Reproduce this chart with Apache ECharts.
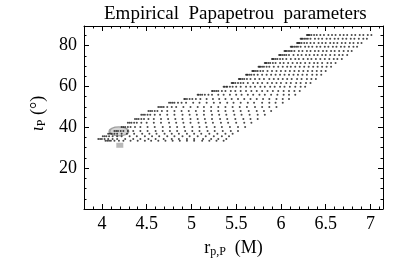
<!DOCTYPE html>
<html><head><meta charset="utf-8">
<script src="https://cdn.jsdelivr.net/npm/echarts@6/dist/echarts.min.js"></script>
<style>html,body{margin:0;padding:0;background:#fff}#c{width:415px;height:258px}</style>
</head><body><div id="c"></div>
<script>
// Title & axis texts
const titleText = 'Empirical  Papapetrou  parameters';
const xTickValues = [4, 4.5, 5, 5.5, 6, 6.5, 7];
const yTickValues = [20, 40, 60, 80];

// Grid rows of the empirical parameters: inclination (deg) of each row
const rowY = [85.2, 83.3, 81.3, 79.4, 77.4, 75.4, 73.5, 71.5, 69.6, 67.6, 65.7, 63.7, 61.7, 59.8,
  57.8, 55.9, 53.9, 52.0, 50.0, 48.0, 46.1, 44.1, 42.2, 40.2, 38.2, 36.8, 35.6, 34.3, 33.4];
// r_p,P (M) values of the points along each row
const rowX = [
  [6.29, 6.30, 6.31, 6.32, 6.34, 6.37, 6.40, 6.44, 6.48, 6.53, 6.57, 6.61, 6.66, 6.70, 6.74, 6.79, 6.83, 6.88, 6.92, 6.97, 7.01],
  [6.22, 6.23, 6.24, 6.26, 6.28, 6.30, 6.33, 6.38, 6.42, 6.46, 6.51, 6.55, 6.60, 6.64, 6.69, 6.73, 6.78, 6.82, 6.87, 6.92, 6.96],
  [6.18, 6.19, 6.20, 6.21, 6.23, 6.26, 6.29, 6.33, 6.37, 6.42, 6.46, 6.50, 6.55, 6.59, 6.63, 6.68, 6.72, 6.77, 6.81, 6.86, 6.90],
  [6.11, 6.12, 6.13, 6.15, 6.17, 6.19, 6.22, 6.27, 6.31, 6.35, 6.40, 6.44, 6.49, 6.53, 6.58, 6.62, 6.67, 6.71, 6.76, 6.81, 6.85],
  [6.04, 6.05, 6.06, 6.08, 6.10, 6.12, 6.15, 6.20, 6.24, 6.29, 6.33, 6.38, 6.42, 6.47, 6.51, 6.56, 6.60, 6.65, 6.70, 6.75, 6.79],
  [5.98, 5.99, 6.00, 6.02, 6.04, 6.06, 6.09, 6.14, 6.19, 6.23, 6.28, 6.32, 6.37, 6.41, 6.46, 6.50, 6.55, 6.60, 6.65, 6.69, 6.74],
  [5.90, 5.91, 5.92, 5.94, 5.96, 5.99, 6.02, 6.06, 6.11, 6.16, 6.20, 6.25, 6.30, 6.34, 6.39, 6.44, 6.49, 6.54, 6.59, 6.63, 6.68],
  [5.82, 5.83, 5.84, 5.86, 5.88, 5.91, 5.94, 5.99, 6.03, 6.08, 6.13, 6.18, 6.22, 6.27, 6.32, 6.37, 6.41, 6.46, 6.52, 6.56, 6.61],
  [5.75, 5.76, 5.77, 5.79, 5.81, 5.84, 5.87, 5.92, 5.97, 6.02, 6.07, 6.11, 6.16, 6.21, 6.26, 6.31, 6.36, 6.41, 6.46, 6.51, 6.56],
  [5.68, 5.69, 5.70, 5.72, 5.74, 5.77, 5.80, 5.85, 5.90, 5.95, 6.00, 6.05, 6.10, 6.15, 6.20, 6.25, 6.30, 6.35, 6.40, 6.45, 6.50],
  [5.61, 5.62, 5.63, 5.65, 5.67, 5.70, 5.74, 5.79, 5.84, 5.89, 5.94, 5.99, 6.04, 6.09, 6.14, 6.19, 6.24, 6.29, 6.35, 6.40, 6.45],
  [5.53, 5.54, 5.55, 5.57, 5.59, 5.62, 5.66, 5.71, 5.76, 5.81, 5.87, 5.92, 5.97, 6.02, 6.07, 6.12, 6.18, 6.23, 6.29, 6.34, 6.39],
  [5.45, 5.46, 5.47, 5.49, 5.52, 5.55, 5.58, 5.63, 5.69, 5.74, 5.79, 5.85, 5.90, 5.95, 6.00, 6.06, 6.11, 6.17, 6.22, 6.28, 6.33],
  [5.36, 5.37, 5.39, 5.40, 5.43, 5.46, 5.50, 5.55, 5.61, 5.66, 5.71, 5.77, 5.82, 5.88, 5.93, 5.99, 6.04, 6.10, 6.16, 6.22, 6.27],
  [5.23, 5.24, 5.26, 5.28, 5.30, 5.34, 5.38, 5.44, 5.49, 5.55, 5.61, 5.67, 5.73, 5.79, 5.85, 5.91, 5.97, 6.03, 6.09, 6.15, 6.21],
  [5.07, 5.08, 5.10, 5.12, 5.15, 5.19, 5.23, 5.30, 5.36, 5.43, 5.50, 5.56, 5.63, 5.69, 5.76, 5.82, 5.89, 5.96, 6.03, 6.09, 6.16],
  [4.92, 4.93, 4.95, 4.98, 5.01, 5.05, 5.10, 5.17, 5.24, 5.31, 5.38, 5.45, 5.52, 5.59, 5.66, 5.73, 5.80, 5.87, 5.95, 6.02, 6.09],
  [4.75, 4.77, 4.79, 4.81, 4.85, 4.89, 4.94, 5.02, 5.09, 5.17, 5.25, 5.32, 5.40, 5.47, 5.55, 5.63, 5.70, 5.79, 5.87, 5.94, 6.02],
  [4.63, 4.65, 4.67, 4.69, 4.73, 4.78, 4.83, 4.91, 4.99, 5.07, 5.14, 5.22, 5.30, 5.38, 5.46, 5.54, 5.62, 5.71, 5.79, 5.87, 5.95],
  [4.52, 4.54, 4.56, 4.59, 4.62, 4.67, 4.73, 4.81, 4.89, 4.97, 5.05, 5.14, 5.22, 5.30, 5.38, 5.47, 5.55, 5.64, 5.73, 5.81, 5.89],
  [4.44, 4.46, 4.48, 4.51, 4.54, 4.59, 4.65, 4.73, 4.81, 4.90, 4.98, 5.06, 5.14, 5.23, 5.31, 5.39, 5.48, 5.56, 5.65, 5.74, 5.82],
  [4.37, 4.39, 4.41, 4.44, 4.47, 4.52, 4.58, 4.66, 4.74, 4.82, 4.90, 4.99, 5.07, 5.15, 5.23, 5.32, 5.40, 5.49, 5.58, 5.66, 5.74],
  [4.29, 4.31, 4.33, 4.36, 4.39, 4.44, 4.50, 4.58, 4.66, 4.75, 4.83, 4.91, 4.99, 5.08, 5.16, 5.24, 5.33, 5.41, 5.50, 5.59, 5.67],
  [4.22, 4.24, 4.26, 4.29, 4.32, 4.37, 4.43, 4.51, 4.59, 4.68, 4.76, 4.84, 4.92, 5.01, 5.09, 5.17, 5.26, 5.34, 5.43, 5.52, 5.60],
  [4.14, 4.16, 4.18, 4.21, 4.24, 4.29, 4.35, 4.43, 4.51, 4.60, 4.68, 4.76, 4.84, 4.93, 5.01, 5.09, 5.18, 5.26, 5.35, 5.44, 5.52],
  [4.07, 4.09, 4.11, 4.14, 4.17, 4.22, 4.28, 4.36, 4.45, 4.53, 4.61, 4.70, 4.78, 4.86, 4.95, 5.03, 5.11, 5.20, 5.29, 5.38, 5.46],
  [4.01, 4.03, 4.05, 4.08, 4.12, 4.17, 4.22, 4.31, 4.39, 4.48, 4.56, 4.64, 4.73, 4.81, 4.90, 4.98, 5.07, 5.16, 5.25, 5.34, 5.42],
  [3.96, 3.98, 4.00, 4.03, 4.07, 4.12, 4.17, 4.26, 4.35, 4.43, 4.52, 4.60, 4.69, 4.78, 4.86, 4.95, 5.03, 5.13, 5.22, 5.30, 5.39],
  [4.04, 4.06, 4.08, 4.10, 4.14, 4.19, 4.24, 4.32, 4.40, 4.48, 4.55, 4.63, 4.71, 4.79, 4.87, 4.95, 5.03, 5.12, 5.20, 5.28, 5.36]
];
// Observed value: error ellipse centre and the square marker
const ellipsePoint = [4.19, 38.0];
const squarePoint = [4.20, 31.2];

const pts = [];
rowY.forEach((y, i) => rowX[i].forEach(x => pts.push([x, y])));

const FONT = 'Liberation Serif';
const XMIN = 3.8, XMAX = 7.14, YMIN = 0, YMAX = 89.6;
const lineStyle = { color: '#000', width: 1 };

function xAx(pos, major, withLabel) {
  const a = {
    type: 'value', position: pos, min: XMIN, max: XMAX,
    splitLine: { show: false },
    axisLine: { show: major, onZero: false, lineStyle },
  };
  if (major) {
    a.axisTick = { show: true, inside: true, length: 5, customValues: xTickValues, lineStyle };
    a.axisLabel = withLabel ? { show: true, customValues: xTickValues, fontFamily: FONT, fontSize: 18, color: '#000', margin: 6 } : { show: false };
  } else {
    a.interval = 0.1;
    a.axisTick = { show: true, inside: true, length: 2.5, lineStyle };
    a.axisLabel = { show: false };
  }
  if (withLabel) {
    a.name = '{r|r}{s|p,P}{r|  (M)}';
    a.nameLocation = 'middle';
    a.nameGap = 30;
    a.nameTextStyle = { rich: {
      r: { fontFamily: FONT, fontSize: 18, color: '#000' },
      s: { fontFamily: FONT, fontSize: 12, color: '#000', verticalAlign: 'bottom', padding: [7, 0, 0, 0] }
    } };
  }
  return a;
}
function yAx(pos, major, withLabel) {
  const a = {
    type: 'value', position: pos, min: YMIN, max: YMAX,
    splitLine: { show: false },
    axisLine: { show: major, onZero: false, lineStyle },
  };
  if (major) {
    a.axisTick = { show: true, inside: true, length: 5, customValues: yTickValues, lineStyle };
    a.axisLabel = withLabel ? { show: true, customValues: yTickValues, fontFamily: FONT, fontSize: 18, color: '#000', margin: 7 } : { show: false };
  } else {
    a.interval = 5;
    a.axisTick = { show: true, inside: true, length: 2.5, lineStyle };
    a.axisLabel = { show: false };
  }
  if (withLabel) {
    a.name = '{i|ι}{s|P}{r| (°)}';
    a.nameLocation = 'middle';
    a.nameRotate = 90;
    a.nameGap = 36;
    a.nameTextStyle = { padding: [0, 0, 0, 8], rich: {
      i: { fontFamily: FONT, fontStyle: 'italic', fontSize: 18, color: '#000' },
      r: { fontFamily: FONT, fontSize: 18, color: '#000' },
      s: { fontFamily: FONT, fontSize: 12, color: '#000', verticalAlign: 'bottom', padding: [7, 0, 0, 0] }
    } };
  }
  return a;
}

const chart = echarts.init(document.getElementById('c'), null, { renderer: 'canvas' });
chart.setOption({
  animation: false,
  backgroundColor: '#fff',
  title: {
    text: titleText, left: 99, top: 0,
    textStyle: { fontFamily: FONT, fontSize: 19, fontWeight: 'normal', color: '#000' }
  },
  grid: { left: 84, right: 32, top: 26, bottom: 49, containLabel: false, outerBoundsMode: 'none' },
  xAxis: [xAx('bottom', true, true), xAx('bottom', false, false), xAx('top', true, false), xAx('top', false, false)],
  yAxis: [yAx('left', true, true), yAx('left', false, false), yAx('right', true, false), yAx('right', false, false)],
  series: [
    { type: 'scatter', xAxisIndex: 0, yAxisIndex: 0, data: [ellipsePoint], symbol: 'circle', symbolSize: [19, 9],
      itemStyle: { color: 'rgba(160,160,160,0.55)', borderColor: '#8c8c8c', borderWidth: 1.5 }, silent: true, z: 1 },
    { type: 'scatter', xAxisIndex: 0, yAxisIndex: 0, data: [squarePoint], symbol: 'rect', symbolSize: [7, 5],
      itemStyle: { color: '#a8a8a8' }, silent: true, z: 1 },
    { type: 'scatter', xAxisIndex: 0, yAxisIndex: 0, data: pts, symbolSize: 2,
      itemStyle: { color: '#1a1a1a' }, silent: true, z: 2 }
  ]
});
</script></body></html>
